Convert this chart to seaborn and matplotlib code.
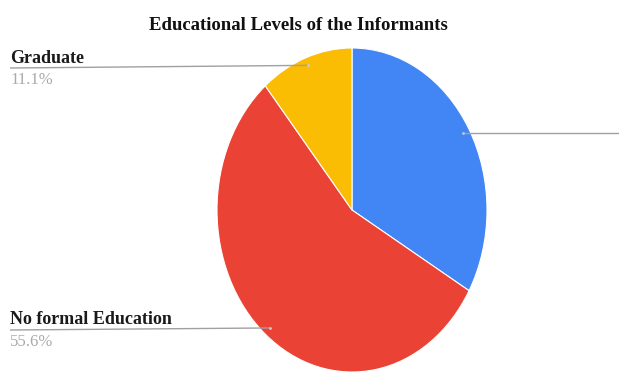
import matplotlib
matplotlib.use("Agg")
import matplotlib.pyplot as plt
import numpy as np
import seaborn as sns

# data
levels = ["Primary", "No formal Education", "Graduate"]
shares = [33.3, 55.6, 11.1]
colors = ["#4285f4", "#ea4335", "#fbbc04"]
title = "Educational Levels of the Informants"

sns.set_theme(style="white")
plt.rcParams["font.family"] = ["Liberation Serif", "DejaVu Serif"]

W, H = 619, 373
RX, RY = 135, 162          # pie radii in pixels (the pie is stretched vertically)
CX, CY = 352, 210          # pie centre in pixels

fig = plt.figure(figsize=(W / 100, H / 100), dpi=100)
ax = fig.add_axes([0, 0, 1, 1])

cx, cy = CX / RX, (H - CY) / RY
wedges, _ = ax.pie(shares, colors=colors, startangle=90, counterclock=False,
                   center=(cx, cy), radius=1.0,
                   wedgeprops=dict(linewidth=0.8, edgecolor="white"))
ax.set_xlim(0, W / RX)
ax.set_ylim(0, H / RY)
ax.set_aspect("auto")
ax.axis("off")


def px(x, y):
    return x / RX, (H - y) / RY


def anchor(w):
    ang = np.deg2rad((w.theta1 + w.theta2) / 2)
    return cx + 0.95 * np.cos(ang), cy + 0.95 * np.sin(ang)


line_kw = dict(color="#a0a0a0", lw=1.0, solid_capstyle="butt")
dot_kw = dict(marker="o", ms=2, color="#cccccc", mec="none")
lab_kw = dict(fontsize=13, fontweight="bold", color="#1a1a1a", va="baseline")
pct_kw = dict(fontsize=12, color="#aaaaaa", va="baseline")

# Primary (label cut off to the right)
ax_, ay_ = anchor(wedges[0])
ax.plot([ax_, W / RX], [ay_, ay_], **line_kw)
ax.plot([ax_], [ay_], **dot_kw)

# Graduate
gx, gy = anchor(wedges[2])
x0, _ = px(10, 0)
ax.plot([x0, gx], [px(0, 68)[1], gy], **line_kw)
ax.plot([gx], [gy], **dot_kw)
ax.text(*px(10, 63), levels[2], **lab_kw)
ax.text(*px(10, 84), f"{shares[2]}%", **pct_kw)

# No formal Education
nx, ny = anchor(wedges[1])
ax.plot([x0, nx], [px(0, 330)[1], ny], **line_kw)
ax.plot([nx], [ny], **dot_kw)
ax.text(*px(10, 324), levels[1], **lab_kw)
ax.text(*px(10, 346), f"{shares[1]}%", **pct_kw)

ax.text(*px(298, 30), title, fontsize=13.5, fontweight="bold", color="#111111",
        ha="center", va="baseline")

fig.savefig("out.png", dpi=100, facecolor="white")
